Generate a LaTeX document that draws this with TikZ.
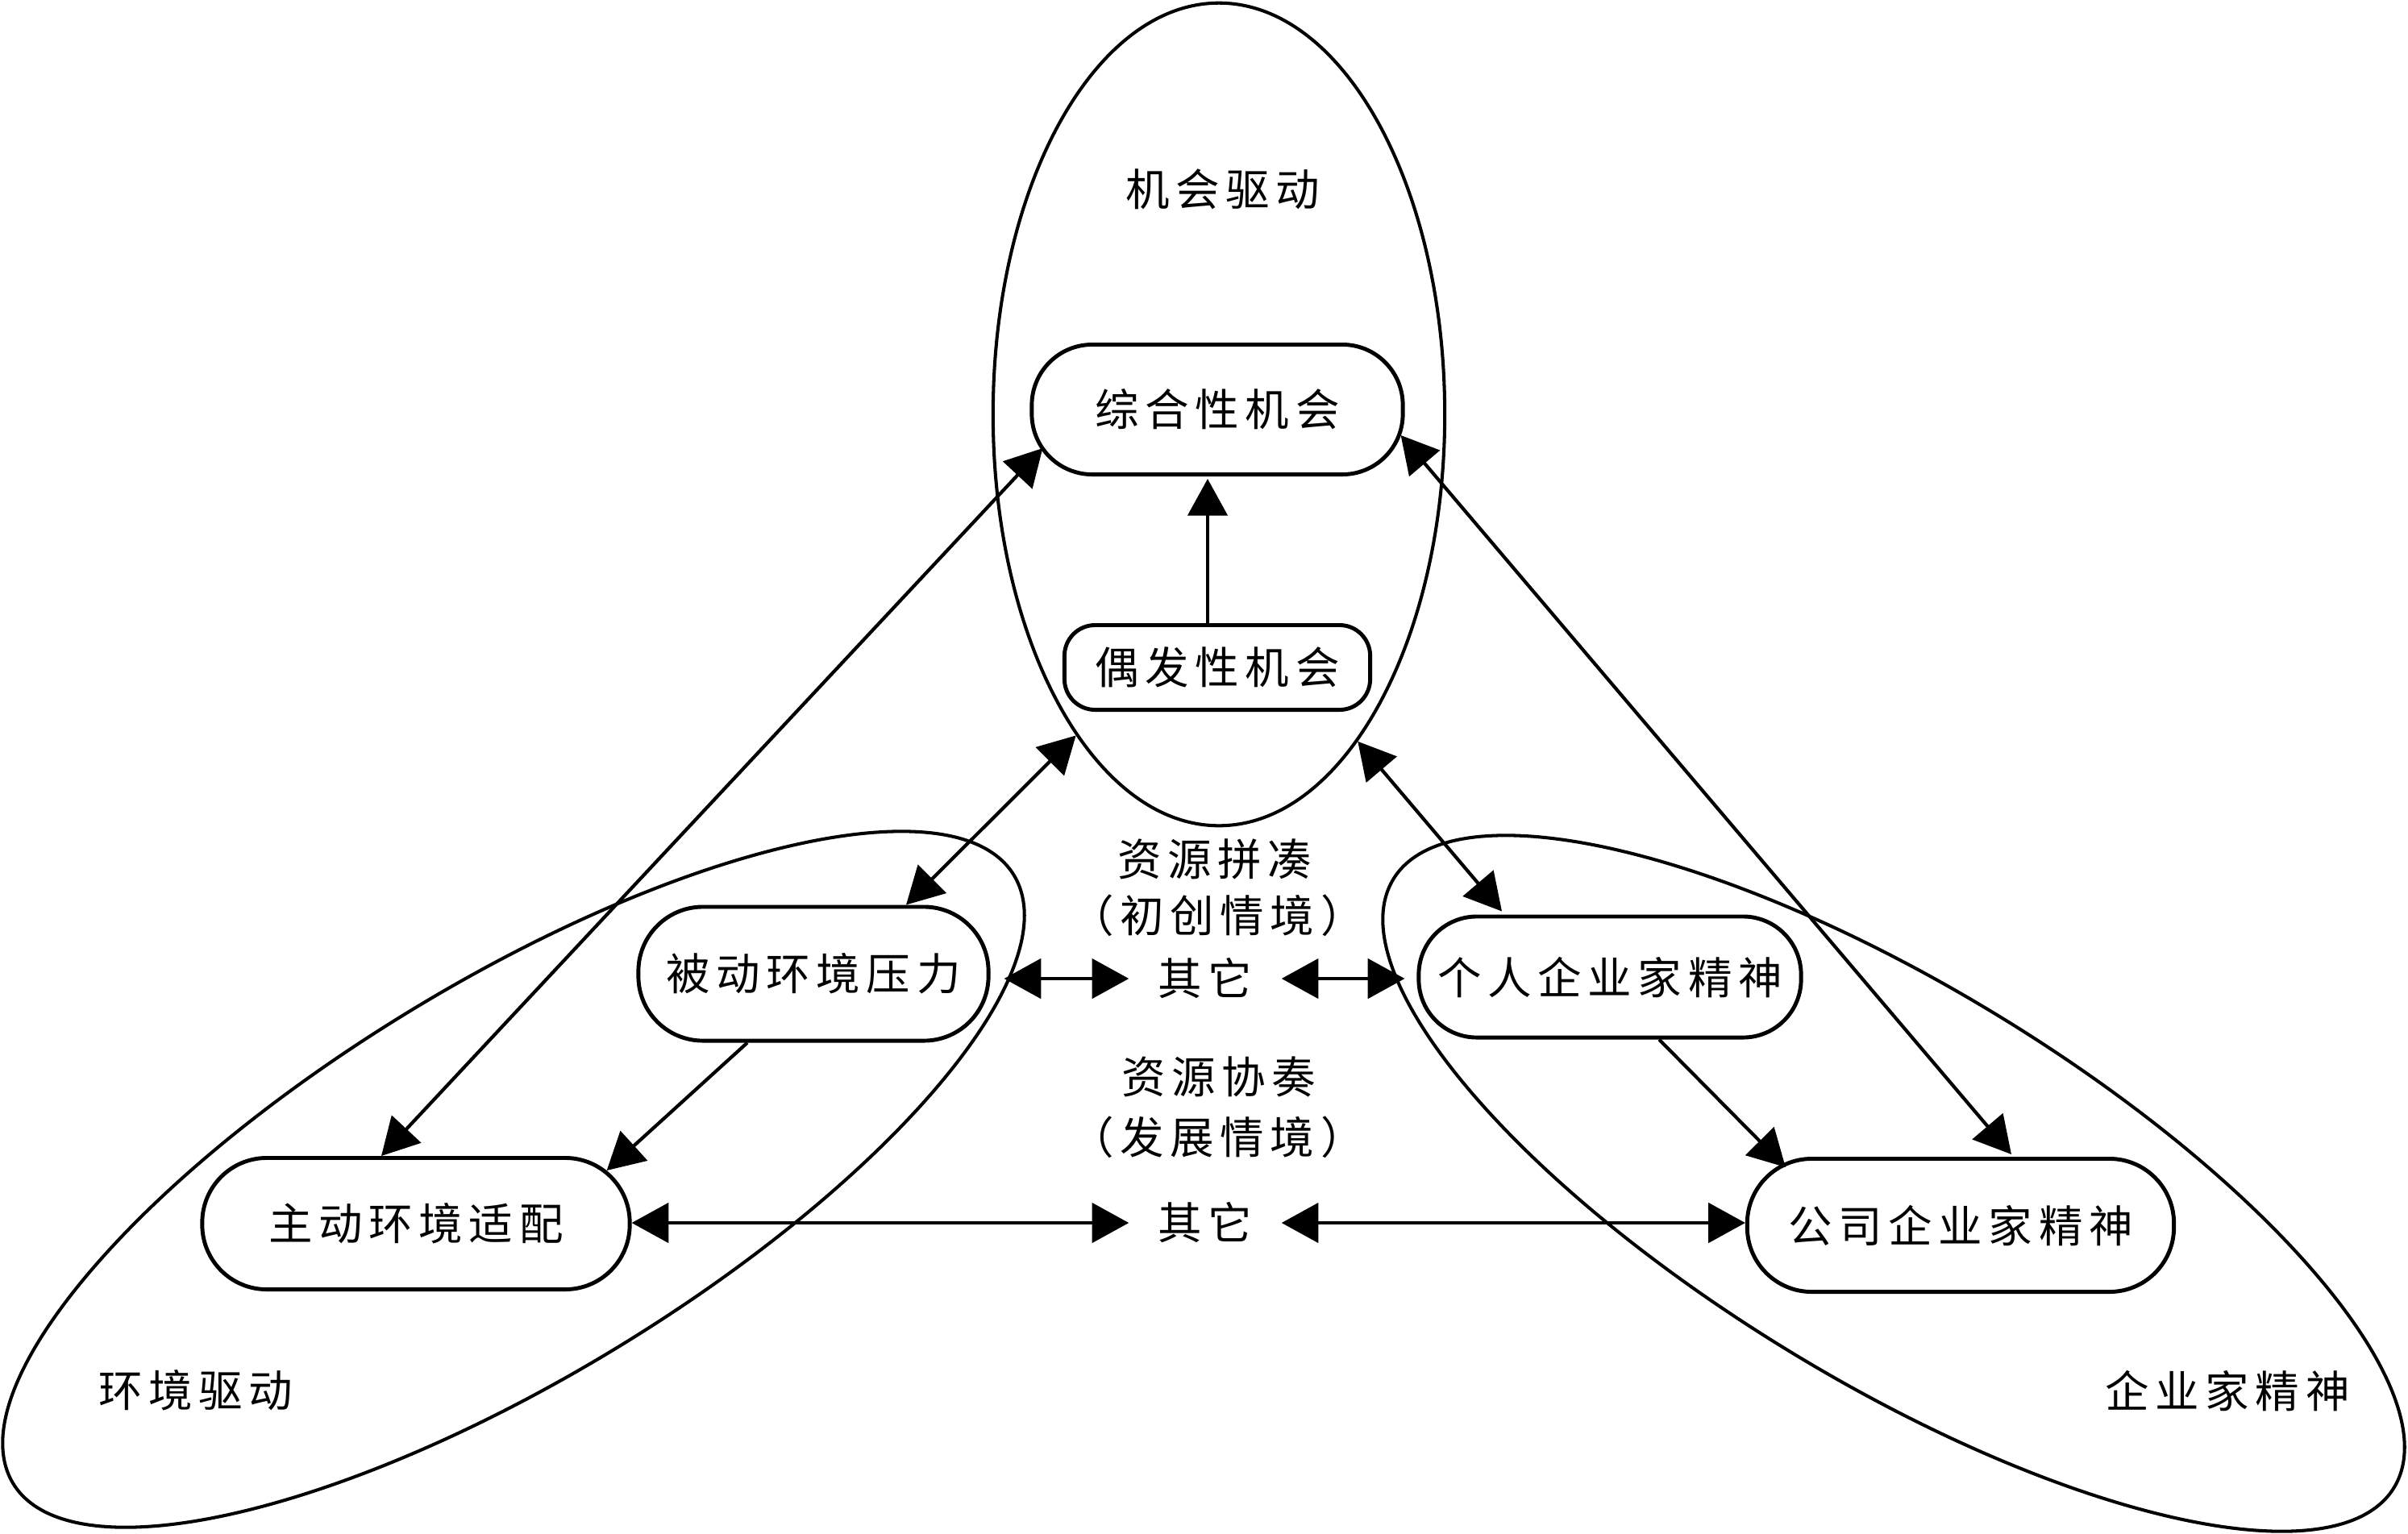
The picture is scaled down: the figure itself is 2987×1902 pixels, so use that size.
\documentclass[tikz,border=0pt]{standalone}
\usepackage{fontspec}
\usetikzlibrary{arrows.meta,shapes.geometric,calc}
\newfontfamily\cjk{Noto Sans CJK SC}[LetterSpace=14]
\begin{document}
\begin{tikzpicture}[x=0.01cm,y=-0.01cm,
  every node/.style={font=\cjk\fontsize{15.5}{18}\selectfont},
  box/.style={draw, line width=1.4pt, inner sep=0pt},
  zone/.style={draw, ellipse, line width=1.15pt, inner sep=0pt},
  lbl/.style={inner sep=0pt},
  arr/.style={line width=1.2pt, -{Triangle[length=13pt,width=14pt]}},
  darr/.style={line width=1.2pt, {Triangle[length=13pt,width=14pt]}-{Triangle[length=13pt,width=14pt]}},
]
\useasboundingbox (0,0) rectangle (2987,1902);
% zones
\node[zone, minimum width=5.6cm, minimum height=10.2cm] (E1) at (1512,514) {};
\node[zone, minimum width=14.52cm, minimum height=4.9cm, rotate=31.3] (E2) at (637,1463) {};
\node[zone, minimum width=14.52cm, minimum height=4.9cm, rotate=-31.3] (E3) at (2349,1468) {};
% boxes
\node[box, minimum width=4.6cm, minimum height=1.61cm, rounded corners=0.75cm] (zh) at (1510,508) {综合性机会};
\node[box, minimum width=3.79cm, minimum height=1.05cm, rounded corners=0.38cm] (ox) at (1510,828) {偶发性机会};
\node[box, minimum width=4.34cm, minimum height=1.66cm, rounded corners=0.8cm] (bd) at (1009,1208) {被动环境压力};
\node[box, minimum width=5.3cm, minimum height=1.63cm, rounded corners=0.8cm] (zd) at (516,1518) {主动环境适配};
\node[box, minimum width=4.74cm, minimum height=1.5cm, rounded corners=0.72cm] (gr) at (1997,1212) {个人企业家精神};
\node[box, minimum width=5.29cm, minimum height=1.65cm, rounded corners=0.8cm] (gs) at (2432,1520) {公司企业家精神};
% labels
\node[lbl] (t1) at (1517,235) {机会驱动};
\node[lbl] (t2) at (1507,1066) {资源拼凑};
\node[lbl] (t3) at (1510,1136) {（初创情境）};
\node[lbl, minimum width=1.88cm] (q1) at (1495,1214) {其它};
\node[lbl] (t4) at (1512,1336) {资源协奏};
\node[lbl] (t5) at (1510,1411) {（发展情境）};
\node[lbl, minimum width=1.88cm] (q2) at (1495,1517) {其它};
\node[lbl] (t6) at (243,1725) {环境驱动};
\node[lbl] (t7) at (2763,1725) {企业家精神};
% connectors
\draw[arr] ($(ox.north)+(-12,0)$) -- ($(zh.south)+(-12,3)$);
\draw[darr] ($(zh.south west)+(16,-35)$) -- ($(zd.north)+(-43,0)$);
\draw[darr] ($(zh.east)+(-5,32)$) -- ($(gs.north)+(63,-3)$);
\draw[darr] (E1.246.7) -- ($(bd.north)+(115,0)$);
\draw[darr] (E1.293.3) -- ($(gr.north)+(-134,-4)$);
\draw[arr] ($(bd.south)+(-82,0)$) -- ($(zd.north east)+(-31,18)$);
\draw[arr] ($(gr.south)+(61,0)$) -- ($(gs.north west)+(50,13)$);
\draw[darr] ($(bd.east |- q1.west)+(17,0)$) -- (q1.west);
\draw[darr] (q1.east) -- ($(gr.west |- q1.east)+(-15,0)$);
\draw[darr] (zd.east |- q2.west) -- (q2.west);
\draw[darr] (q2.east) -- (gs.west |- q2.east);
\end{tikzpicture}
\end{document}
